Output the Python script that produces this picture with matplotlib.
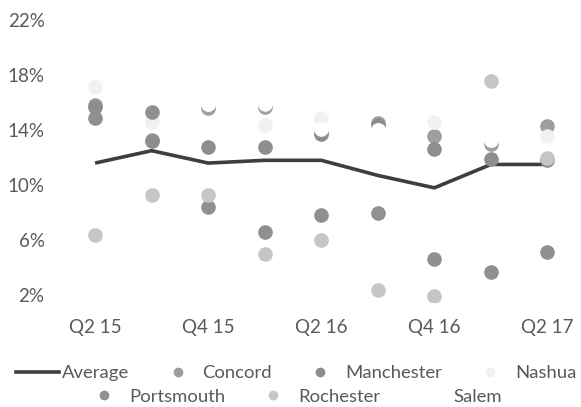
import matplotlib
matplotlib.use("Agg")
import matplotlib.pyplot as plt
from matplotlib.lines import Line2D
import numpy as np

quarters = ["Q2 15", "Q3 15", "Q4 15", "Q1 16", "Q2 16", "Q3 16", "Q4 16", "Q1 17", "Q2 17"]

average = [11.6, 12.5, 11.6, 11.8, 11.8, 10.7, 9.8, 11.5, 11.5]
concord = [15.8, 13.3, 15.6, 15.7, 13.8, 14.5, 13.6, 13.0, 14.3]
manchester = [15.7, 13.2, 12.8, 12.8, 13.7, 14.4, 12.6, 11.9, 11.8]
nashua = [17.1, 14.6, 15.9, 14.4, 14.9, 14.0, 14.6, 13.3, 13.6]
portsmouth = [14.9, 15.3, 8.4, 6.6, 7.8, 8.0, 4.6, 3.7, 5.1]
rochester = [6.4, 9.3, 9.3, 5.0, 6.0, 2.4, 1.9, 17.6, 12.0]
salem = [19.5, 18.5, 15.9, 15.9, 14.1, 14.0, 16.5, 13.3, 16.5]

series = [
    ("Concord", concord, "#9e9e9e"),
    ("Manchester", manchester, "#8e8e8e"),
    ("Nashua", nashua, "#f1f1f1"),
    ("Portsmouth", portsmouth, "#909090"),
    ("Rochester", rochester, "#c6c6c6"),
    ("Salem", salem, "#ffffff"),
]

plt.rcParams["font.family"] = ["Lato", "DejaVu Sans"]
text_col = "#595959"
line_col = "#3e3e3e"

fig = plt.figure(figsize=(5.81, 4.07), dpi=100)
ax = fig.add_axes([0.115, 0.258, 0.876, 0.703])

x = np.arange(len(quarters))
ax.plot(x, average, color=line_col, lw=2.6, solid_capstyle="butt", zorder=2)
for name, vals, col in series:
    ax.plot(x, vals, ls="none", marker="o", ms=9.5, mfc=col, mec=col, zorder=3)

ax.set_xlim(-0.5, len(quarters) - 0.5)
ax.set_ylim(1.5, 22.3)
ax.set_yticks([2, 6, 10, 14, 18, 22])
ax.set_yticklabels([f"{v}%" for v in [2, 6, 10, 14, 18, 22]])
ax.set_xticks(x[::2])
ax.set_xticklabels(quarters[::2])
ax.tick_params(length=0, labelsize=13.5, labelcolor=text_col)
ax.tick_params(axis="x", pad=12)
ax.tick_params(axis="y", pad=16)
for s in ax.spines.values():
    s.set_visible(False)

# legend in two centred rows
row1 = [Line2D([], [], color=line_col, lw=2.6)]
row1 += [Line2D([], [], ls="none", marker="o", ms=6, mfc=c, mec=c) for _, _, c in series[:3]]
lab1 = ["Average"] + [n for n, _, _ in series[:3]]
row2 = [Line2D([], [], ls="none", marker="o", ms=6, mfc=c, mec=c) for _, _, c in series[3:]]
lab2 = [n for n, _, _ in series[3:]]

kw = dict(frameon=False, fontsize=13.3, labelcolor=text_col, handlelength=2.3,
          handletextpad=0.2, columnspacing=1.45, borderpad=0)
leg1 = fig.legend(row1, lab1, ncol=4, loc="center", bbox_to_anchor=(0.510, 0.083), **kw)
leg2 = fig.legend(row2, lab2, ncol=3, loc="center", bbox_to_anchor=(0.503, 0.025), **kw)

fig.savefig("out.png", dpi=100)
